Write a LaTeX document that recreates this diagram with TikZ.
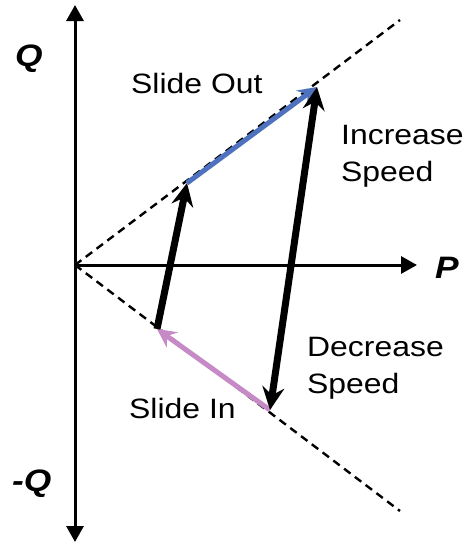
\documentclass[tikz,border=0pt]{standalone}
\usepackage{fontspec}
\setmainfont{Liberation Sans}[FakeStretch=1.14]
\usetikzlibrary{arrows.meta}
\definecolor{outblue}{HTML}{4F72BE}
\definecolor{inpink}{HTML}{C68AC6}
\tikzset{
  axtip/.tip={Triangle[length=16pt,width=17pt]},
  bigtip/.tip={Stealth[length=23pt,width=22pt,inset=8pt]},
  coltip/.tip={Stealth[length=19pt,width=19pt,inset=7pt]},
  axisline/.style={line width=3pt},
  guide/.style={line width=2.4pt, dash pattern=on 8pt off 5.5pt},
  bigarrow/.style={line width=7pt},
  colarrow/.style={line width=5pt},
  lbl/.style={inner sep=0pt, font=\fontsize{28}{37}\selectfont},
  axlbl/.style={inner sep=0pt, font=\fontsize{31}{35}\selectfont\bfseries\itshape}
}
\begin{document}
\begin{tikzpicture}[x=1pt,y=-1pt]
\useasboundingbox (0,0) rectangle (467,544);
% coordinates
\coordinate (O) at (75,265);
\coordinate (top) at (75,5);
\coordinate (bot) at (75,542);
\coordinate (right) at (417,265);
\coordinate (ue) at (400,20);
\coordinate (le) at (400,511);
\coordinate (A) at (187,183);
\coordinate (B) at (317,87);
\coordinate (C) at (270,410);
\coordinate (D) at (157,329);
% guide lines
\draw[guide] (O) -- (ue);
\draw[guide] (O) -- (le);
% axes
\draw[axisline, axtip-axtip] (top) -- (bot);
\draw[axisline, -axtip] (O) -- (right);
% arrows
\draw[colarrow, outblue, -coltip] (A) -- (B);
\draw[colarrow, inpink, -coltip] (C) -- (D);
\draw[bigarrow, -bigtip] (D) -- (A);
\draw[bigarrow, bigtip-bigtip] (C) -- (B);
% labels
\node[axlbl, anchor=base west] (q) at (15,66) {Q};
\node[axlbl, anchor=base west] (mq) at (12,491) {-Q};
\node[axlbl, anchor=base west] (p) at (435,278) {P};
\node[lbl, anchor=base west] (so) at (131,93) {Slide Out};
\node[lbl, anchor=base west] (si) at (129,418) {Slide In};
\node[lbl, anchor=north west, align=left] (inc) at (341,125) {Increase\\Speed};
\node[lbl, anchor=north west, align=left] (dec) at (307,337) {Decrease\\Speed};
\end{tikzpicture}
\end{document}
